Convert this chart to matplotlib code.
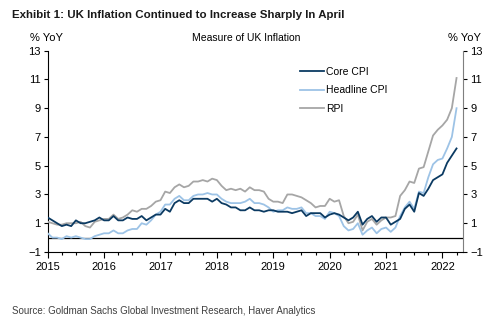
import matplotlib.pyplot as plt
import numpy as np

plt.rcParams['font.family'] = ['Liberation Sans', 'DejaVu Sans']

# monthly YoY %, Jan 2015 - Apr 2022
core_cpi = [1.4, 1.2, 1.0, 0.8, 0.9, 0.8, 1.2, 1.0, 1.0, 1.1, 1.2, 1.4,
            1.2, 1.2, 1.5, 1.2, 1.2, 1.4, 1.3, 1.3, 1.5, 1.2, 1.4, 1.6,
            1.6, 2.0, 1.8, 2.4, 2.6, 2.4, 2.4, 2.7, 2.7, 2.7, 2.7, 2.5,
            2.7, 2.4, 2.3, 2.1, 2.1, 1.9, 1.9, 2.1, 1.9, 1.9, 1.8, 1.9,
            1.9, 1.8, 1.8, 1.8, 1.7, 1.8, 1.9, 1.5, 1.7, 1.7, 1.7, 1.4,
            1.6, 1.7, 1.6, 1.4, 1.2, 1.4, 1.8, 0.9, 1.3, 1.5, 1.1, 1.4,
            1.4, 0.9, 1.1, 1.3, 2.0, 2.3, 1.8, 3.1, 2.9, 3.4, 4.0, 4.2,
            4.4, 5.2, 5.7, 6.2]
headline_cpi = [0.3, 0.0, 0.0, -0.1, 0.1, 0.0, 0.1, 0.0, -0.1, -0.1, 0.1, 0.2,
                0.3, 0.3, 0.5, 0.3, 0.3, 0.5, 0.6, 0.6, 1.0, 0.9, 1.2, 1.6,
                1.8, 2.3, 2.3, 2.7, 2.9, 2.6, 2.6, 2.9, 3.0, 3.0, 3.1, 3.0,
                3.0, 2.7, 2.5, 2.4, 2.4, 2.4, 2.5, 2.7, 2.4, 2.4, 2.3, 2.1,
                1.8, 1.9, 1.9, 2.1, 2.0, 2.0, 2.1, 1.7, 1.7, 1.5, 1.5, 1.3,
                1.8, 1.7, 1.5, 0.8, 0.5, 0.6, 1.0, 0.2, 0.5, 0.7, 0.3, 0.6,
                0.7, 0.4, 0.7, 1.5, 2.1, 2.5, 2.0, 3.2, 3.1, 4.2, 5.1, 5.4,
                5.5, 6.2, 7.0, 9.0]
rpi = [1.1, 1.0, 0.9, 0.9, 1.0, 1.0, 1.0, 1.1, 0.8, 0.7, 1.1, 1.2,
       1.3, 1.3, 1.6, 1.3, 1.4, 1.6, 1.9, 1.8, 2.0, 2.0, 2.2, 2.5,
       2.6, 3.2, 3.1, 3.5, 3.7, 3.5, 3.6, 3.9, 3.9, 4.0, 3.9, 4.1,
       4.0, 3.6, 3.3, 3.4, 3.3, 3.4, 3.2, 3.5, 3.3, 3.3, 3.2, 2.7,
       2.5, 2.5, 2.4, 3.0, 3.0, 2.9, 2.8, 2.6, 2.4, 2.1, 2.2, 2.2,
       2.7, 2.5, 2.6, 1.5, 1.0, 1.1, 1.6, 0.5, 1.1, 1.3, 0.9, 1.2,
       1.4, 1.4, 1.5, 2.9, 3.3, 3.9, 3.8, 4.8, 4.9, 6.0, 7.1, 7.5,
       7.8, 8.2, 9.0, 11.1]
years = [2015, 2016, 2017, 2018, 2019, 2020, 2021, 2022]
yticks = [-1, 1, 3, 5, 7, 9, 11, 13]

t = 2015 + np.arange(len(core_cpi)) / 12.0

fig = plt.figure(figsize=(5.0, 3.27), dpi=100)
ax = fig.add_axes([0.0954, 0.2294, 0.8312, 0.6156])

ax.plot(t, rpi, color='#a6a6a6', lw=1.3, label='RPI', zorder=3)
ax.plot(t, headline_cpi, color='#9dc3e6', lw=1.3, label='Headline CPI', zorder=4)
ax.plot(t, core_cpi, color='#0b3a62', lw=1.3, label='Core CPI', zorder=5)
ax.axhline(0, color='black', lw=0.9, zorder=2)

ax.set_xlim(2015, 2022.37)
ax.set_ylim(-1, 13)
ax.set_yticks(yticks)
ax.set_xticks(years)
ax.set_xticks(np.arange(2015, 2022.4, 0.25), minor=True)
ax.tick_params(axis='x', which='major', length=4, width=0.8, labelsize=8, pad=3)
ax.tick_params(axis='x', which='minor', length=2.5, width=0.8)
ax.tick_params(axis='y', length=3, width=0.8, labelsize=8, pad=2,
               left=True, right=True, labelleft=True, labelright=True)
ax.spines['top'].set_visible(False)
ax.spines['left'].set_color('black')
ax.spines['right'].set_color('#7f7f7f')
for s in ['left', 'right', 'bottom']:
    ax.spines[s].set_linewidth(0.8)

handles, labels = ax.get_legend_handles_labels()
ax.legend(handles[::-1], labels[::-1], loc='upper left', bbox_to_anchor=(0.585, 0.965),
          frameon=False, fontsize=7.5, handlelength=2.3, handletextpad=0.15,
          labelspacing=0.8)

fig.text(0.024, 0.955, 'Exhibit 1: UK Inflation Continued to Increase Sharply In April',
         fontsize=8.25, fontweight='bold', color='#1a1a1a', va='center')
fig.text(0.06, 0.884, '% YoY', fontsize=8, va='center')
fig.text(0.93, 0.884, '% YoY', fontsize=8, va='center', ha='center')
fig.text(0.493, 0.884, 'Measure of UK Inflation', fontsize=7.5, va='center', ha='center')
fig.text(0.024, 0.05, 'Source: Goldman Sachs Global Investment Research, Haver Analytics',
         fontsize=7.0, color='#404040', va='center')

fig.savefig('out.png', dpi=100)
